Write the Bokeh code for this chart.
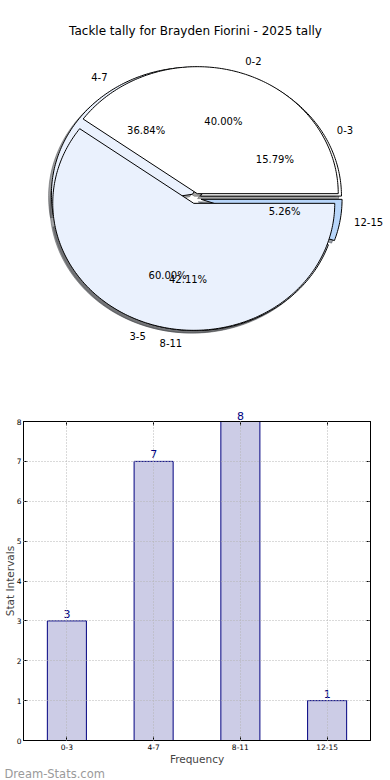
import numpy as np
from bokeh.plotting import figure
from bokeh.models import (Range1d, ColumnDataSource, Label, LinearAxis, FixedTicker, Title)
from bokeh.embed import file_html
from bokeh.resources import INLINE

# ---------------- data ----------------
title_text = "Tackle tally for Brayden Fiorini - 2025 tally"
intervals = ["0-3", "4-7", "8-11", "12-15"]      # pie drawn underneath + bar categories
tallies = [3, 7, 8, 1]
interval_colors = ["#ffffff", "#eaf1fd", "#eaf1fd", "#b8d6fa"]
top_labels = ["0-2", "3-5"]                      # pie drawn on top
top_values = [2, 3]
top_colors = ["#ffffff", "#eaf1fd"]
explode = 0.04
y_ticks = [0, 1, 2, 3, 4, 5, 6, 7, 8]
x_label = "Frequency"
y_label = "Stat Intervals"
watermark = "Dream-Stats.com"

FONT = "DejaVu Sans"


def pie_geometry(vals, exp):
    vals = np.asarray(vals, dtype=float)
    frac = vals / vals.sum()
    edges = np.concatenate([[0.0], np.cumsum(frac)]) * 2 * np.pi
    xs, ys, cx, cy, mids = [], [], [], [], []
    for t1, t2 in zip(edges[:-1], edges[1:]):
        m = 0.5 * (t1 + t2)
        ox, oy = exp * np.cos(m), exp * np.sin(m)
        t = np.linspace(t1, t2, max(int(np.degrees(t2 - t1)), 2) + 1)
        xs.append(np.concatenate([[ox], ox + np.cos(t)]))
        ys.append(np.concatenate([[oy], oy + np.sin(t)]))
        cx.append(ox)
        cy.append(oy)
        mids.append(m)
    return xs, ys, np.array(cx), np.array(cy), np.array(mids), frac


def shade(hexcol):
    h = hexcol.lstrip("#")
    r, g, b = (int(h[i:i + 2], 16) for i in (0, 2, 4))
    return "#%02x%02x%02x" % (int(r * 0.3), int(g * 0.3), int(b * 0.3))


# ---------------- pie figure ----------------
PW, PH = 390, 396
RX, RY = 141.0, 127.0
CXL, CYT = 195.0, 198.0
pie = figure(width=PW, height=PH, output_backend="svg", toolbar_location=None,
             x_range=Range1d(-CXL / RX, (PW - CXL) / RX),
             y_range=Range1d(-(PH - CYT) / RY, CYT / RY),
             x_axis_location=None, y_axis_location=None, min_border=0)
pie.grid.visible = False
pie.outline_line_color = None

pies = [(intervals, tallies, interval_colors), (top_labels, top_values, top_colors)]
geoms = [pie_geometry(v, explode) for _, v, _ in pies]

# shadows of both pies first
for (labs, vals, cols), (xs, ys, cx, cy, mids, frac) in zip(pies, geoms):
    sc = [shade(c) for c in cols]
    pie.patches(xs=[x - 0.02 for x in xs], ys=[y - 0.02 for y in ys],
                fill_color=sc, fill_alpha=0.5, line_color=sc, line_alpha=0.5, line_width=1)
# wedges
for (labs, vals, cols), (xs, ys, cx, cy, mids, frac) in zip(pies, geoms):
    pie.patches(xs=xs, ys=ys, fill_color=cols, line_color="black", line_width=1)
# texts
for (labs, vals, cols), (xs, ys, cx, cy, mids, frac) in zip(pies, geoms):
    lx = cx + 1.1 * np.cos(mids)
    ly = cy + 1.1 * np.sin(mids)
    right = lx > 0
    for mask, align in ((right, "left"), (~right, "right")):
        src = ColumnDataSource(dict(x=lx[mask], y=ly[mask],
                                    t=[l for l, k in zip(labs, mask) if k]))
        pie.text(x="x", y="y", text="t", source=src, text_align=align,
                 text_baseline="middle", text_font_size="10px", text_font={"value": FONT},
                 text_color="black")
    px = cx + 0.6 * np.cos(mids)
    py = cy + 0.6 * np.sin(mids)
    src = ColumnDataSource(dict(x=px, y=py, t=["%.2f%%" % (f * 100) for f in frac]))
    pie.text(x="x", y="y", text="t", source=src, text_align="center",
             text_baseline="middle", text_font_size="10px", text_font={"value": FONT},
             text_color="black")

pie.add_layout(Label(x=CXL, y=PH - 30, x_units="screen", y_units="screen", text=title_text,
                     text_align="center", text_baseline="middle", text_font_size="12px",
                     text_font=FONT, text_color="black"))

# ---------------- bar figure ----------------
BW, BH = 390, 384
n = len(intervals)
positions = list(range(n))
bars = figure(width=BW, height=BH, output_backend="svg", toolbar_location=None,
              x_range=Range1d(-0.5, n - 0.5), y_range=Range1d(0, y_ticks[-1]),
              min_border_left=19, min_border_right=20, min_border_top=25,
              min_border_bottom=40)
bars.vbar(x=positions, top=tallies, width=0.45, fill_color="#ccccE6",
          line_color="navy", line_width=1)
bars.text(x=positions, y=tallies, text=[str(v) for v in tallies], text_align="center",
          text_baseline="bottom", y_offset=-3, text_font_size="11px",
          text_font={"value": FONT}, text_color="navy")

bottom_axis = bars.below[0]
left_axis = bars.left[0]
bottom_axis.ticker = FixedTicker(ticks=positions)
bottom_axis.major_label_overrides = {p: name for p, name in zip(positions, intervals)}
left_axis.ticker = FixedTicker(ticks=y_ticks)
right_axis = LinearAxis(ticker=FixedTicker(ticks=y_ticks), major_label_text_color=None)
# value labels of bars that reach the top of the frame are shown above the top spine
top_axis = LinearAxis(ticker=FixedTicker(ticks=positions),
                      major_label_overrides={p: (str(v) if v >= y_ticks[-1] else "")
                                             for p, v in zip(positions, tallies)})
bars.add_layout(right_axis, "right")
bars.add_layout(top_axis, "above")
for ax in (bottom_axis, left_axis, right_axis, top_axis):
    ax.major_tick_in = 4
    ax.major_tick_out = 0
    ax.minor_tick_in = 0
    ax.minor_tick_out = 0
    ax.axis_line_color = "black"
    ax.major_tick_line_color = "black"
    ax.major_label_text_font = FONT
    ax.major_label_text_font_size = "7.5px"
    ax.major_label_standoff = 3
left_axis.major_label_text_color = "black"
bottom_axis.major_label_text_color = "black"
top_axis.major_label_text_color = "navy"
top_axis.major_label_text_font_size = "11px"
top_axis.major_label_standoff = 2

bottom_axis.axis_label = x_label
bottom_axis.axis_label_text_font = FONT
bottom_axis.axis_label_text_font_size = "10.5px"
bottom_axis.axis_label_text_font_style = "normal"
bottom_axis.axis_label_standoff = 0
bottom_axis.major_label_standoff = 3

left_axis.axis_label = y_label
left_axis.axis_label_text_font = FONT
left_axis.axis_label_text_font_size = "10.5px"
left_axis.axis_label_text_font_style = "normal"
left_axis.axis_label_standoff = -2
left_axis.major_label_standoff = 2

bars.xgrid.ticker = FixedTicker(ticks=positions)
bars.ygrid.ticker = FixedTicker(ticks=y_ticks)
bars.grid.grid_line_color = "#b4b4b4"
bars.grid.grid_line_dash = "1 2"
bars.grid.grid_line_width = 1
bars.grid.level = "overlay"
bars.outline_line_color = "black"

bars.add_layout(Title(text=watermark, align="left", offset=-19, standoff=-6,
                      text_font=FONT, text_font_size="11.5px", text_font_style="normal",
                      text_color="#9a9a9a"), "below")

open("out.html", "w").write(file_html([pie, bars], INLINE))
